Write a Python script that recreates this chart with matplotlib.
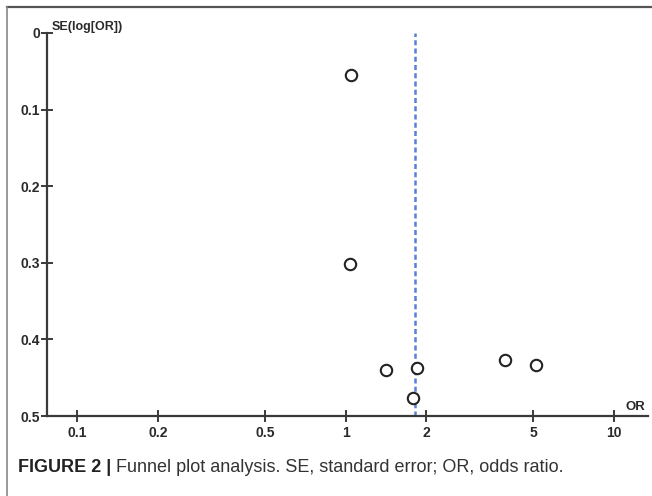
import matplotlib
matplotlib.use("Agg")
import matplotlib.pyplot as plt
from matplotlib.lines import Line2D
import numpy as np

plt.rcParams['font.family'] = ['Liberation Sans', 'DejaVu Sans']

# Data
odds_ratio = [1.05, 1.035, 1.42, 1.84, 1.78, 3.92, 5.12]
se_log_or = [0.055, 0.302, 0.440, 0.437, 0.477, 0.427, 0.434]
pooled_or = 1.81
x_ticks = [0.1, 0.2, 0.5, 1, 2, 5, 10]
x_tick_labels = ["0.1", "0.2", "0.5", "1", "2", "5", "10"]
y_ticks = [0, 0.1, 0.2, 0.3, 0.4, 0.5]
y_tick_labels = ["0", "0.1", "0.2", "0.3", "0.4", "0.5"]
caption_bold = "FIGURE 2 |"
caption_rest = " Funnel plot analysis. SE, standard error; OR, odds ratio."

W, H = 652, 496
fig = plt.figure(figsize=(W / 100, H / 100), dpi=100)
fig.patch.set_facecolor('white')

# outer frame lines (top and left)
fig.add_artist(Line2D([7 / W, 1.0], [1 - 7 / H, 1 - 7 / H], color='#555555', lw=1.6, transform=fig.transFigure))
fig.add_artist(Line2D([7 / W, 7 / W], [0, 1 - 7 / H], color='#888888', lw=1.2, transform=fig.transFigure))

left, right = 47 / W, 648 / W
bottom, top = 1 - 416 / H, 1 - 33 / H
ax = fig.add_axes([left, bottom, right - left, top - bottom])
ax.set_facecolor('none')

axcol = '#3a3a3a'
ax.set_xscale('log')
ax.set_xlim(0.0772, 13.39)
ax.set_ylim(0.5, 0)

ax.axvline(pooled_or, color='#5a7fd8', lw=1.8, linestyle=(0, (2.0, 1.3)), zorder=1)
ax.plot(odds_ratio, se_log_or, linestyle='none', marker='o', markersize=8.2,
        markerfacecolor='white', markeredgecolor='#222222', markeredgewidth=1.5, zorder=3)

for s in ['top', 'right']:
    ax.spines[s].set_visible(False)
for s in ['left', 'bottom']:
    ax.spines[s].set_color(axcol)
    ax.spines[s].set_linewidth(1.6)

ax.set_xticks(x_ticks)
ax.set_xticklabels(x_tick_labels)
ax.xaxis.set_minor_locator(matplotlib.ticker.NullLocator())
ax.set_yticks(y_ticks)
ax.set_yticklabels(y_tick_labels)
ax.tick_params(axis='both', direction='inout', length=8, width=1.4, color=axcol,
               labelsize=10, labelcolor='#2a2a2a')
ax.tick_params(axis='x', pad=3)
ax.tick_params(axis='y', pad=1)
for lab in ax.get_xticklabels() + ax.get_yticklabels():
    lab.set_fontweight('bold')

fig.text(52 / W, 1 - 27 / H, "SE(log[OR])", fontsize=9, fontweight='bold',
         color='#2a2a2a', ha='left', va='center')
fig.text(626 / W, 1 - 407 / H, "OR", fontsize=9.5, fontweight='bold',
         color='#2a2a2a', ha='left', va='center')

t1 = fig.text(18 / W, 1 - 467 / H, caption_bold, fontsize=13, fontweight='bold',
              color='#222222', ha='left', va='center')
fig.canvas.draw()
bb = t1.get_window_extent()
fig.text(bb.x1 / W, 1 - 467 / H, caption_rest, fontsize=13, color='#333333',
         ha='left', va='center')

fig.savefig('out.png', dpi=100)
